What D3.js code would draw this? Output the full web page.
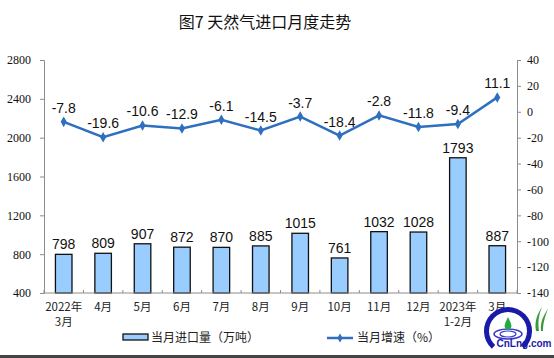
<!DOCTYPE html>
<html><head><meta charset="utf-8">
<script src="https://cdn.jsdelivr.net/npm/d3@7/dist/d3.min.js"></script>
<style>body{margin:0;background:#fff}svg{display:block}</style>
</head><body>
<script>
const categories = [["2022年","3月"],["4月"],["5月"],["6月"],["7月"],["8月"],["9月"],["10月"],["11月"],["12月"],["2023年","1-2月"],["3月"]];
const volume = [798,809,907,872,870,885,1015,761,1032,1028,1793,887];
const growth = [-7.8,-19.6,-10.6,-12.9,-6.1,-14.5,-3.7,-18.4,-2.8,-11.8,-9.4,11.1];
const leftTicks = [400,800,1200,1600,2000,2400,2800];
const rightTicks = [-140,-120,-100,-80,-60,-40,-20,0,20,40];

const W=554,H=358;
const svg=d3.select("body").append("svg").attr("width",W).attr("height",H);
const m={l:44,r:517,t:60,b:293};
const x=d3.scaleBand().domain(d3.range(categories.length)).range([m.l,m.r]).paddingInner(0.58).paddingOuter(0.29);
const xb=d3.scaleBand().domain(d3.range(categories.length)).range([m.l,m.r]);
const yL=d3.scaleLinear().domain([400,2800]).range([m.b,m.t]);
const yR=d3.scaleLinear().domain([-140,40]).range([m.b,m.t]);
const axisCol="#8c8c8c";
const tickFont="'Liberation Serif','Times New Roman',serif";

svg.append("text").attr("x",265).attr("y",28).attr("text-anchor","middle")
  .attr("font-family","'Noto Sans CJK SC',sans-serif").attr("font-size",16).attr("font-weight",400).attr("fill","#111")
  .text("图7 天然气进口月度走势");

// left axis
const gl=svg.append("g").attr("transform",`translate(${m.l},0)`).call(d3.axisLeft(yL).tickValues(leftTicks).tickSize(4).tickPadding(9).tickFormat(d=>String(d)));
const gr=svg.append("g").attr("transform",`translate(${m.r},0)`).call(d3.axisRight(yR).tickValues(rightTicks).tickSize(4).tickPadding(6).tickFormat(d=>String(d)));
[gl,gr].forEach(g=>{
  g.select(".domain").attr("stroke",axisCol);
  g.selectAll(".tick line").attr("stroke",axisCol);
  g.selectAll(".tick text").attr("font-family",tickFont).attr("font-size",12).attr("fill","#111");
});

// bars
svg.append("g").selectAll("rect").data(volume).join("rect")
  .attr("x",(d,i)=>x(i)).attr("width",x.bandwidth())
  .attr("y",d=>yL(d)).attr("height",d=>yL(400)-yL(d))
  .attr("fill","#99ccff").attr("stroke","#111").attr("stroke-width",1.3);

// x axis
svg.append("line").attr("x1",m.l).attr("x2",m.r).attr("y1",m.b).attr("y2",m.b).attr("stroke",axisCol);
svg.append("g").selectAll("line").data(d3.range(categories.length+1)).join("line")
  .attr("x1",i=>i<categories.length?xb(i):m.r).attr("x2",i=>i<categories.length?xb(i):m.r)
  .attr("y1",m.b).attr("y2",m.b-3).attr("stroke",axisCol);
const xl=svg.append("g");
categories.forEach((c,i)=>{
  const cx=x(i)+x.bandwidth()/2;
  c.forEach((s,j)=>{
    xl.append("text").attr("x",cx).attr("y",311+j*15).attr("text-anchor","middle")
      .attr("font-family","'Noto Sans CJK SC',sans-serif").attr("font-size",11.5).attr("fill","#222").text(s);
  });
});

// bar labels
svg.append("g").selectAll("text").data(volume).join("text")
  .attr("x",(d,i)=>x(i)+x.bandwidth()/2).attr("y",d=>yL(d)-5).attr("text-anchor","middle")
  .attr("font-family","'Liberation Sans',Arial,sans-serif").attr("font-size",14).attr("fill","#111").text(d=>d);

// line
const lineCol="#2e6fc0";
const line=d3.line().x((d,i)=>x(i)+x.bandwidth()/2).y(d=>yR(d));
svg.append("path").datum(growth).attr("d",line).attr("fill","none").attr("stroke",lineCol).attr("stroke-width",2.5);
svg.append("g").selectAll("path").data(growth).join("path")
  .attr("d",d3.symbol(d3.symbolDiamond,32))
  .attr("transform",(d,i)=>`translate(${x(i)+x.bandwidth()/2},${yR(d)})`).attr("fill",lineCol);
svg.append("g").selectAll("text").data(growth).join("text")
  .attr("x",(d,i)=>x(i)+x.bandwidth()/2).attr("y",d=>yR(d)-9).attr("text-anchor","middle")
  .attr("font-family","'Liberation Sans',Arial,sans-serif").attr("font-size",14).attr("fill","#111").text(d=>d.toFixed(1));

// legend
const lg=svg.append("g");
lg.append("rect").attr("x",123).attr("y",334).attr("width",25).attr("height",6).attr("fill","#99ccff").attr("stroke","#111").attr("stroke-width",1.3);
lg.append("text").attr("x",151).attr("y",342).attr("font-family","'Noto Sans CJK SC',sans-serif").attr("font-size",12).attr("fill","#222").text("当月进口量（万吨）");
lg.append("line").attr("x1",327).attr("x2",353).attr("y1",338).attr("y2",338).attr("stroke",lineCol).attr("stroke-width",2.5);
lg.append("path").attr("d",d3.symbol(d3.symbolDiamond,24)).attr("transform","translate(340,338)").attr("fill",lineCol);
lg.append("text").attr("x",357).attr("y",342).attr("font-family","'Noto Sans CJK SC',sans-serif").attr("font-size",12).attr("fill","#222").text("当月增速（%）");

// logo approximation
const lo=svg.append("g").attr("transform","translate(508,331)");
lo.append("path").attr("d",d3.arc()({innerRadius:19,outerRadius:24,startAngle:-2.4,endAngle:2.4})).attr("fill","#1a1aa8");
lo.append("ellipse").attr("cx",0).attr("cy",3).attr("rx",14).attr("ry",5).attr("fill","none").attr("stroke","#3a3acc").attr("stroke-width",1.5);
lo.append("ellipse").attr("cx",0).attr("cy",3).attr("rx",8).attr("ry",3).attr("fill","none").attr("stroke","#3a3acc").attr("stroke-width",1.2);
lo.append("path").attr("d","M0,-14 C4,-6 5,-3 0,-1 C-5,-3 -4,-6 0,-14Z").attr("fill","#22aa44");
lo.append("text").attr("x",16).attr("y",16).attr("text-anchor","middle").attr("font-family","'Liberation Sans',sans-serif").attr("font-size",10).attr("font-weight",700).attr("fill","#1a1aa8").text("CnLng.com");
lo.append("path").attr("d","M28,0 C26,-10 30,-18 34,-24 C30,-14 30,-8 31,0Z M33,0 C32,-10 36,-16 40,-22 C36,-12 35,-6 35,0Z").attr("fill","#3a9a3a");

svg.append("rect").attr("x",0).attr("y",355).attr("width",W).attr("height",3).attr("fill","#444");
</script>
</body></html>
